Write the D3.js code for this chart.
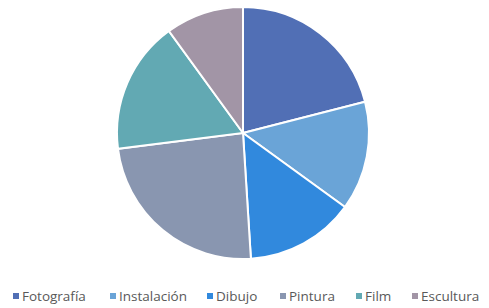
<!DOCTYPE html>
<html>
<head>
<meta charset="utf-8">
<script src="https://cdn.jsdelivr.net/npm/d3@7"></script>
<style>
  body { margin: 0; background: #fff; }
  svg { display: block; }
</style>
</head>
<body>
<div id="chart"></div>
<script>
const categories = ["Fotografía", "Instalación", "Dibujo", "Pintura", "Film", "Escultura"];
const values = [21, 14, 14, 24, 17, 10];
const colors = ["#516fb5", "#6aa4d7", "#3189dd", "#8996b0", "#62a9b3", "#a295a6"];

const width = 489, height = 308;
const cx = 243, cy = 133, radius = 126;

const svg = d3.select("#chart").append("svg")
    .attr("width", width)
    .attr("height", height);

const data = categories.map((c, i) => ({ name: c, value: values[i], color: colors[i] }));

const pie = d3.pie().sort(null).value(d => d.value);
const arc = d3.arc().innerRadius(0).outerRadius(radius);

svg.append("g")
    .attr("transform", `translate(${cx},${cy})`)
    .selectAll("path")
    .data(pie(data))
    .enter()
    .append("path")
    .attr("d", arc)
    .attr("fill", d => d.data.color)
    .attr("stroke", "#fff")
    .attr("stroke-width", 2);

// Legend
const legendX = [13, 110, 207, 280, 356, 412];
const legend = svg.append("g").attr("class", "legend");
const items = legend.selectAll("g")
    .data(data)
    .enter()
    .append("g")
    .attr("transform", (d, i) => `translate(${legendX[i]},296)`);

items.append("rect")
    .attr("x", 0)
    .attr("y", -3)
    .attr("width", 6)
    .attr("height", 6)
    .attr("fill", d => d.color);

items.append("text")
    .attr("x", 9)
    .attr("y", 0)
    .attr("dy", "0.35em")
    .attr("font-family", "'Open Sans', sans-serif")
    .attr("font-size", 13.5)
    .attr("fill", "#595959")
    .text(d => d.name);
</script>
</body>
</html>
